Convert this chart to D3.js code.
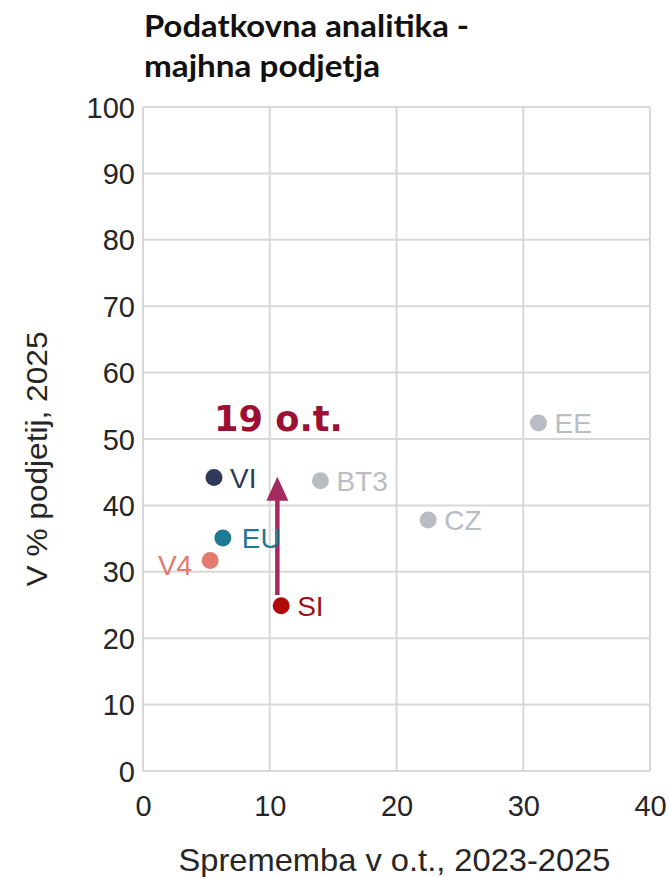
<!DOCTYPE html>
<html>
<head>
<meta charset="utf-8">
<script src="https://cdn.jsdelivr.net/npm/d3@7"></script>
<style>
  html, body { margin: 0; padding: 0; background: #ffffff; }
  svg { display: block; }
</style>
</head>
<body>
<div id="chart"></div>
<script>
// ---- data ----
const titleLines = ["Podatkovna analitika -", "majhna podjetja"];
const xAxisTitle = "Sprememba v o.t., 2023-2025";
const yAxisTitle = "V % podjetij, 2025";
const xTicks = [0, 10, 20, 30, 40];
const yTicks = [0, 10, 20, 30, 40, 50, 60, 70, 80, 90, 100];
const pointLabels = ["VI", "EU", "V4", "SI", "BT3", "CZ", "EE"];
const changeValues = [5.6, 6.3, 5.3, 10.9, 14.0, 22.5, 31.2];
const shareValues = [44.2, 35.1, 31.7, 24.9, 43.7, 37.8, 52.4];
const pointColors = ["#2f3a5a", "#1e7a94", "#e27a6f", "#b00a0a", "#b9bdc3", "#b9bdc3", "#b9bdc3"];
const labelColors = ["#2f3a5a", "#1e7a94", "#e27a6f", "#a50f17", "#b9bdc3", "#b9bdc3", "#b9bdc3"];
const arrowX = [10.6];
const arrowFrom = [26.5];
const arrowTo = [44.3];
const arrowText = "19 o.t.";

// ---- layout ----
const W = 668, H = 877;
const mLeft = 143, mRight = 650, mTop = 107, mBottom = 771;

const svg = d3.select("#chart").append("svg").attr("width", W).attr("height", H);

const x = d3.scaleLinear().domain([0, 40]).range([mLeft, mRight]);
const y = d3.scaleLinear().domain([0, 100]).range([mBottom, mTop]);

function fitWidth(sel, target) {
  const n = sel.node();
  const w = n.getComputedTextLength();
  if (Math.abs(w - target) / target > 0.02) {
    sel.attr("textLength", target).attr("lengthAdjust", "spacingAndGlyphs");
  }
}

// title
const t1 = svg.append("text").attr("x", 144).attr("y", 37)
  .attr("font-family", "Lato, 'Open Sans', sans-serif").attr("font-weight", 700)
  .attr("font-size", 30).attr("fill", "#111").text(titleLines[0]);
fitWidth(t1, 325);
const t2 = svg.append("text").attr("x", 144).attr("y", 77)
  .attr("font-family", "Lato, 'Open Sans', sans-serif").attr("font-weight", 700)
  .attr("font-size", 30).attr("fill", "#111").text(titleLines[1]);
fitWidth(t2, 236);

// grid
const gridColor = "#d8d8d8";
svg.append("g").selectAll("line").data(yTicks).join("line")
  .attr("x1", x(0)).attr("x2", x(40))
  .attr("y1", d => y(d)).attr("y2", d => y(d))
  .attr("stroke", gridColor).attr("stroke-width", 2);
svg.append("g").selectAll("line").data(xTicks).join("line")
  .attr("y1", y(0)).attr("y2", y(100))
  .attr("x1", d => x(d)).attr("x2", d => x(d))
  .attr("stroke", gridColor).attr("stroke-width", 2);

// axes via d3 axis (tick labels only)
const yAxis = svg.append("g").attr("transform", `translate(${mLeft},0)`)
  .call(d3.axisLeft(y).tickValues(yTicks).tickSize(0).tickPadding(8).tickFormat(d3.format("d")));
yAxis.select(".domain").remove();
yAxis.selectAll("text").attr("font-family", "'Liberation Sans', Arial, sans-serif")
  .attr("font-size", 29).attr("fill", "#262626").attr("dy", "0.35em");

const xAxis = svg.append("g").attr("transform", `translate(0,${mBottom})`)
  .call(d3.axisBottom(x).tickValues(xTicks).tickSize(0).tickPadding(24).tickFormat(d3.format("d")));
xAxis.select(".domain").remove();
xAxis.selectAll("text").attr("font-family", "'Liberation Sans', Arial, sans-serif")
  .attr("font-size", 29).attr("fill", "#262626").attr("dy", "0.71em");

// axis titles
const xt = svg.append("text").attr("x", (mLeft + mRight) / 2 - 2).attr("y", 871)
  .attr("text-anchor", "middle").attr("font-family", "'Liberation Sans', Arial, sans-serif")
  .attr("font-size", 32).attr("fill", "#262626").text(xAxisTitle);
fitWidth(xt, 432);
const yt = svg.append("text")
  .attr("transform", `translate(47,${(mTop + mBottom) / 2 + 20}) rotate(-90)`)
  .attr("text-anchor", "middle").attr("font-family", "'Liberation Sans', Arial, sans-serif")
  .attr("font-size", 30).attr("fill", "#262626").text(yAxisTitle);
fitWidth(yt, 255);

// arrow
const arrowColor = "#a52a5f";
const ax = x(arrowX[0]);
const headLen = 24, headHalf = 11;
svg.append("line")
  .attr("x1", ax).attr("x2", ax)
  .attr("y1", y(arrowFrom[0])).attr("y2", y(arrowTo[0]) + headLen - 2)
  .attr("stroke", arrowColor).attr("stroke-width", 4.5);
svg.append("path")
  .attr("d", `M${ax},${y(arrowTo[0])} L${ax - headHalf},${y(arrowTo[0]) + headLen} L${ax + headHalf},${y(arrowTo[0]) + headLen} Z`)
  .attr("fill", arrowColor);

// arrow label
const at = svg.append("text").attr("x", 214).attr("y", 431)
  .attr("font-family", "'DejaVu Sans', sans-serif").attr("font-weight", 700)
  .attr("font-size", 36).attr("fill", "#9c1034").text(arrowText);
fitWidth(at, 129);

// points
const pts = pointLabels.map((l, i) => ({ l, x: changeValues[i], y: shareValues[i], c: pointColors[i], lc: labelColors[i] }));
svg.append("g").selectAll("circle").data(pts).join("circle")
  .attr("cx", d => x(d.x)).attr("cy", d => y(d.y)).attr("r", 8.5)
  .attr("fill", d => d.c);

svg.append("g").selectAll("text").data(pts).join("text")
  .attr("x", d => x(d.x) + (d.l === "V4" ? -18 : d.l === "EU" ? 19 : 16))
  .attr("y", d => y(d.y) + (d.l === "V4" ? 14 : 10))
  .attr("text-anchor", d => d.l === "V4" ? "end" : "start")
  .attr("font-family", "'Liberation Sans', Arial, sans-serif")
  .attr("font-size", 28).attr("fill", d => d.lc)
  .text(d => d.l);
</script>
</body>
</html>
